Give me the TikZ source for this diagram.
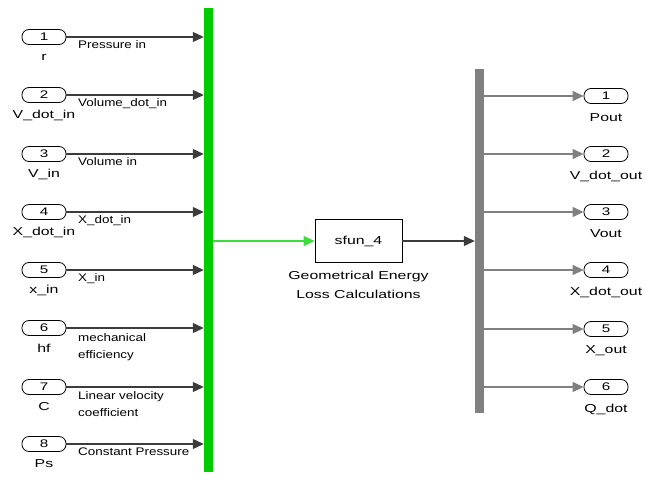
\documentclass[tikz,border=0pt]{standalone}
\usepackage{fontspec}
\setmainfont{Liberation Sans}
\newfontfamily\sigfont[FakeStretch=1.22]{Liberation Sans}
\newfontfamily\portfont[FakeStretch=1.38]{Liberation Sans}
\newfontfamily\blkfont[FakeStretch=1.38]{Liberation Sans}
\usetikzlibrary{arrows.meta}
\definecolor{busgreen}{RGB}{0,204,0}
\definecolor{linegreen}{RGB}{60,220,60}
\definecolor{busgray}{RGB}{128,128,128}
\definecolor{linegray}{RGB}{160,160,160}
\definecolor{linedark}{RGB}{60,60,60}
\tikzset{
  port/.style={draw, rounded corners=7pt, minimum width=44pt, minimum height=15pt, inner sep=0pt, line width=0.8pt, font=\portfont\fontsize{11}{13}\selectfont},
  portlabel/.style={inner sep=0pt, font=\portfont\fontsize{11.5}{13}\selectfont},
  siglabel/.style={anchor=north west, align=left, inner sep=0pt, font=\sigfont\fontsize{11}{17}\selectfont},
  inline/.style={draw=linedark, line width=1.1pt, -{Triangle[length=11pt,width=10pt]}},
  outline/.style={draw=linegray, line width=1.1pt, -{Triangle[length=11pt,width=10pt,fill=busgray]}, busgray},
  blockbox/.style={draw, line width=0.8pt, minimum width=87pt, minimum height=43pt, inner sep=0pt, font=\blkfont\fontsize{11.5}{13}\selectfont}
}
\begin{document}
\begin{tikzpicture}[x=1pt,y=-1pt, font=\fontsize{11}{13}\selectfont]
\useasboundingbox (0,0) rectangle (646,482);
% buses
\node[fill=busgreen, minimum width=9pt, minimum height=464pt, inner sep=0pt] (bus) at (208.5,240) {};
\node[fill=busgray, minimum width=9pt, minimum height=344pt, inner sep=0pt] (demux) at (479.5,241) {};
% inports
\foreach \i/\y/\lab in {1/37/r, 2/95/V\_dot\_in, 3/154/V\_in, 4/212/X\_dot\_in, 5/270/x\_in, 6/328/hf, 7/387/C, 8/444/Ps}{
  \node[port] (in\i) at (44,\y) {\i};
  \node[portlabel] (inl\i) at (44,\y+20) {\lab};
  \draw[inline] (in\i.east) -- (in\i.east -| bus.west);
}
% signal labels
\node[siglabel] (s1) at (78,40) {Pressure in};
\node[siglabel] (s2) at (78,98) {Volume\_dot\_in};
\node[siglabel] (s3) at (78,157) {Volume in};
\node[siglabel] (s4) at (78,215) {X\_dot\_in};
\node[siglabel] (s5) at (78,273) {X\_in};
\node[siglabel] (s6) at (78,333) {mechanical\\efficiency};
\node[siglabel] (s7) at (78,391) {Linear velocity\\coefficient};
\node[siglabel] (s8) at (78,448) {Constant Pressure};
% block
\node[blockbox] (blk) at (358.5,241) {sfun\_4};
\node[align=center, inner sep=0pt, font=\blkfont\fontsize{11.5}{19}\selectfont, anchor=north] (blkl) at (358.5,271) {Geometrical Energy\\Loss Calculations};
\draw[draw=linegreen, line width=1.1pt, -{Triangle[length=11pt,width=10pt,fill=linegreen]}] (bus.east |- blk.west) -- (blk.west);
\draw[inline] (blk.east) -- (blk.east -| demux.west);
% outports
\foreach \i/\y/\lab in {1/96/Pout, 2/154/V\_dot\_out, 3/212/Vout, 4/270/X\_dot\_out, 5/329/X\_out, 6/387/Q\_dot}{
  \node[port] (out\i) at (606,\y) {\i};
  \node[portlabel] (outl\i) at (606,\y+22) {\lab};
  \draw[outline] (demux.east |- out\i.west) -- (out\i.west);
}
\end{tikzpicture}
\end{document}
